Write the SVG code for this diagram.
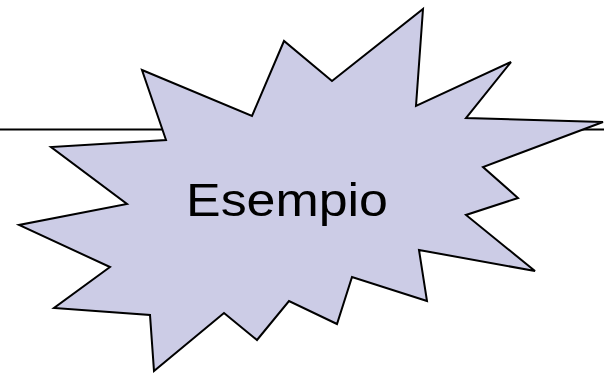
<svg xmlns="http://www.w3.org/2000/svg" width="604" height="373" viewBox="0 0 604 373">
<style>
.ln{stroke:#000;stroke-width:2;fill:none}
.star{fill:#CCCCE6;stroke:#000;stroke-width:2;stroke-linejoin:miter}
.lbl{font-family:"Liberation Sans",Arial,sans-serif;font-size:46px;fill:#000}
</style>
<rect width="604" height="373" fill="#fff"/>
<g id="connectors">
<line class="ln" x1="0" y1="129.5" x2="604" y2="129.5"/>
</g>
<g id="esempio">
<polygon class="star" points="142,70 252,116 284,41 332,81 423,9 416,106 511,62 466,118 603,122 483,167 518,198 466,215 535,271 419,250 427,301 352,277 337,324 289,301 257,340 224,313 154,371 150,315 54,308 110,267 19,225 127,204 51,147 166,140"/>
<text class="lbl" x="186" y="216" textLength="202" lengthAdjust="spacingAndGlyphs">Esempio</text>
</g>
</svg>
